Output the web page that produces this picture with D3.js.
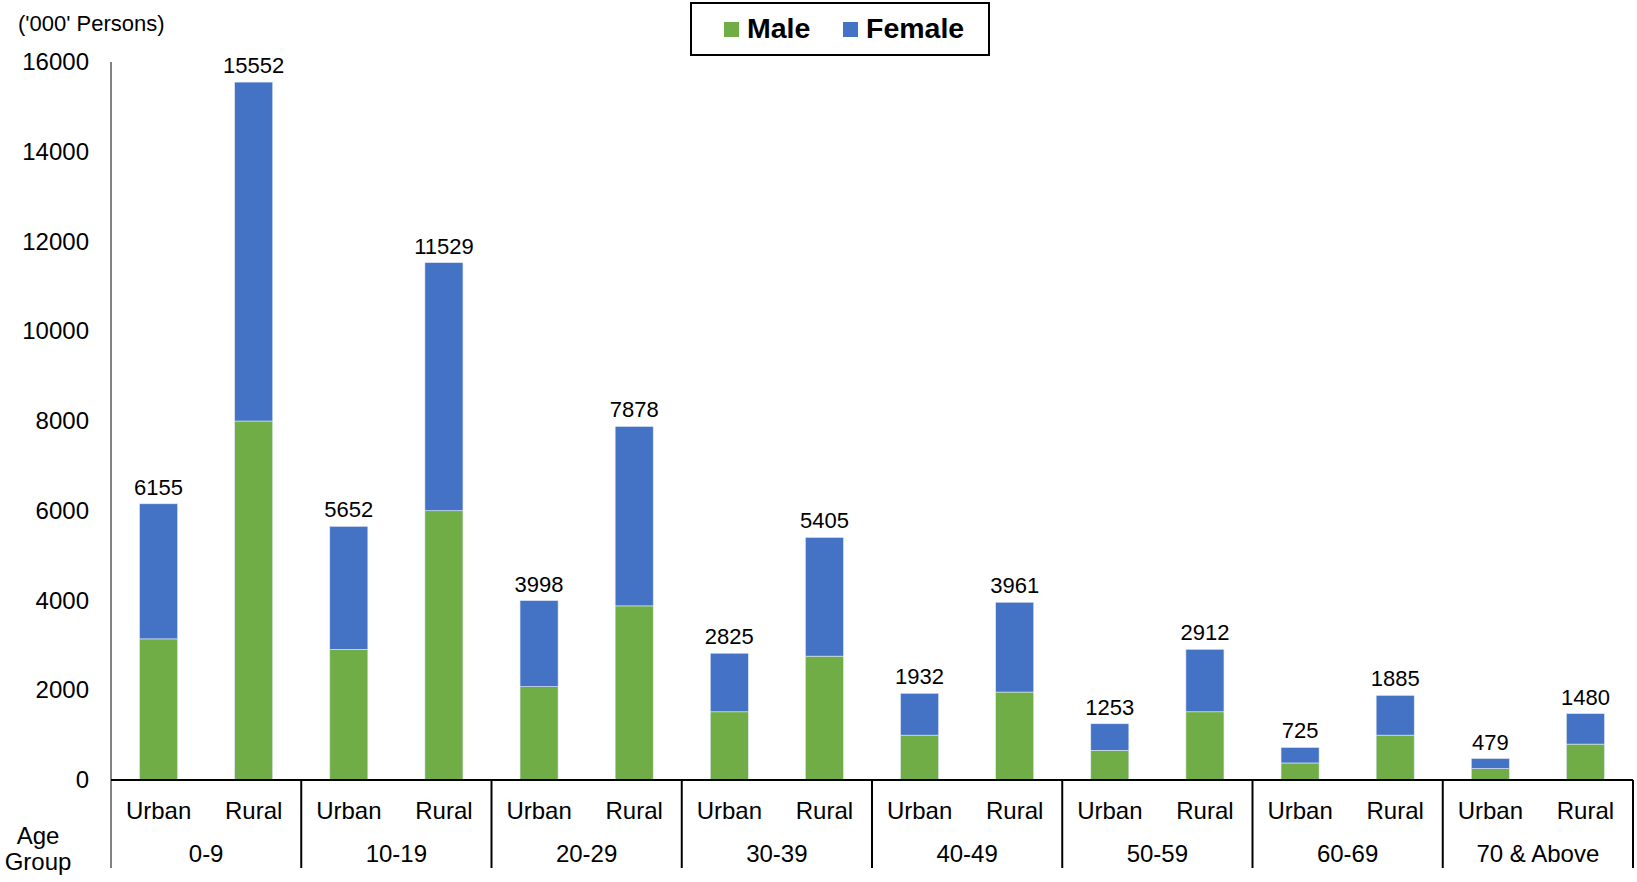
<!DOCTYPE html>
<html>
<head>
<meta charset="utf-8">
<script src="https://cdn.jsdelivr.net/npm/d3@7"></script>
<style>
  html, body { margin: 0; padding: 0; background: #fff; }
  svg { display: block; font-family: "Liberation Sans", Arial, sans-serif; }
</style>
</head>
<body>
<svg id="chart" width="1637" height="882"></svg>
<script>
// ---- Data ----
const ageGroups = ["0-9", "10-19", "20-29", "30-39", "40-49", "50-59", "60-69", "70 & Above"];
const areas = ["Urban", "Rural"];
const urbanTotal = [6155, 5652, 3998, 2825, 1932, 1253, 725, 479];
const ruralTotal = [15552, 11529, 7878, 5405, 3961, 2912, 1885, 1480];
const urbanMale = [3145, 2910, 2080, 1520, 1000, 660, 380, 255];
const ruralMale = [8000, 6000, 3880, 2760, 1960, 1520, 1000, 800];
const yTicks = [0, 2000, 4000, 6000, 8000, 10000, 12000, 14000, 16000];
const seriesNames = ["Male", "Female"];
const seriesColors = ["#70AD47", "#4472C4"];

// ---- Build rows ----
const rows = [];
ageGroups.forEach((g, i) => {
  rows.push({ group: g, area: "Urban", male: urbanMale[i], female: urbanTotal[i] - urbanMale[i], total: urbanTotal[i] });
  rows.push({ group: g, area: "Rural", male: ruralMale[i], female: ruralTotal[i] - ruralMale[i], total: ruralTotal[i] });
});

const svg = d3.select("#chart");
const mLeft = 111, mRight = 1633, mTop = 62, mBottom = 780, catBottom = 868;

const x0 = d3.scaleBand().domain(ageGroups).range([mLeft, mRight]).padding(0);
const x1 = d3.scaleBand().domain(areas).range([0, x0.bandwidth()]).paddingInner(0.6).paddingOuter(0.3);
const y = d3.scaleLinear().domain([0, 16000]).range([mBottom, mTop]);

// ---- Y axis ----
const yAxis = d3.axisLeft(y).tickValues(yTicks).tickSize(0).tickPadding(22).tickFormat(d3.format("d"));
const gy = svg.append("g").attr("transform", `translate(${mLeft},0)`).call(yAxis);
gy.select(".domain").remove();
gy.selectAll("text").attr("font-size", 24).attr("fill", "#000")
  .attr("font-family", "'Liberation Sans', Arial, sans-serif");
svg.append("line").attr("x1", mLeft).attr("x2", mLeft).attr("y1", mTop).attr("y2", catBottom)
  .attr("stroke", "#595959").attr("stroke-width", 1.5);

// ---- Bars ----
const stack = d3.stack().keys(["male", "female"]);
const stacked = stack(rows);
svg.append("g").selectAll("g").data(stacked).join("g")
  .attr("fill", (d, i) => seriesColors[i])
  .selectAll("rect").data(d => d).join("rect")
  .attr("x", d => x0(d.data.group) + x1(d.data.area))
  .attr("width", x1.bandwidth())
  .attr("y", d => y(d[1]))
  .attr("height", d => y(d[0]) - y(d[1]))
  .attr("stroke", "#dfe8f5").attr("stroke-width", 0.6);

// ---- Data labels ----
svg.append("g").selectAll("text").data(rows).join("text")
  .attr("x", d => x0(d.group) + x1(d.area) + x1.bandwidth() / 2)
  .attr("y", d => y(d.total) - 9)
  .attr("text-anchor", "middle").attr("font-size", 22).attr("fill", "#000")
  .text(d => d.total);

// ---- X axis (baseline, separators, labels) ----
svg.append("line").attr("x1", mLeft).attr("x2", mRight).attr("y1", mBottom).attr("y2", mBottom)
  .attr("stroke", "#000").attr("stroke-width", 2);
const seps = ageGroups.map(g => x0(g)).slice(1).concat([mRight]);
svg.append("g").selectAll("line").data(seps).join("line")
  .attr("x1", d => d).attr("x2", d => d).attr("y1", mBottom).attr("y2", catBottom)
  .attr("stroke", "#000").attr("stroke-width", 2);

svg.append("g").selectAll("text").data(rows).join("text")
  .attr("x", d => x0(d.group) + x1(d.area) + x1.bandwidth() / 2)
  .attr("y", 819)
  .attr("text-anchor", "middle").attr("font-size", 24).attr("fill", "#000")
  .text(d => d.area);

svg.append("g").selectAll("text").data(ageGroups).join("text")
  .attr("x", d => x0(d) + x0.bandwidth() / 2)
  .attr("y", 862)
  .attr("text-anchor", "middle").attr("font-size", 24).attr("fill", "#000")
  .text(d => d);

svg.append("text").attr("x", 38).attr("y", 844).attr("text-anchor", "middle")
  .attr("font-size", 24).text("Age");
svg.append("text").attr("x", 38).attr("y", 870).attr("text-anchor", "middle")
  .attr("font-size", 24).text("Group");

// ---- Unit label ----
svg.append("text").attr("x", 18).attr("y", 31).attr("font-size", 22).attr("fill", "#000")
  .text("('000' Persons)");

// ---- Legend ----
const lg = svg.append("g");
lg.append("rect").attr("x", 691).attr("y", 3).attr("width", 298).attr("height", 52)
  .attr("fill", "#fff").attr("stroke", "#000").attr("stroke-width", 2);
const legendX = [724, 843];
seriesNames.forEach((n, i) => {
  lg.append("rect").attr("x", legendX[i]).attr("y", 22).attr("width", 15).attr("height", 15)
    .attr("fill", seriesColors[i]);
  lg.append("text").attr("x", legendX[i] + 23).attr("y", 38).attr("font-size", 28.5)
    .attr("font-weight", "bold").attr("fill", "#000").text(n);
});
</script>
</body>
</html>
